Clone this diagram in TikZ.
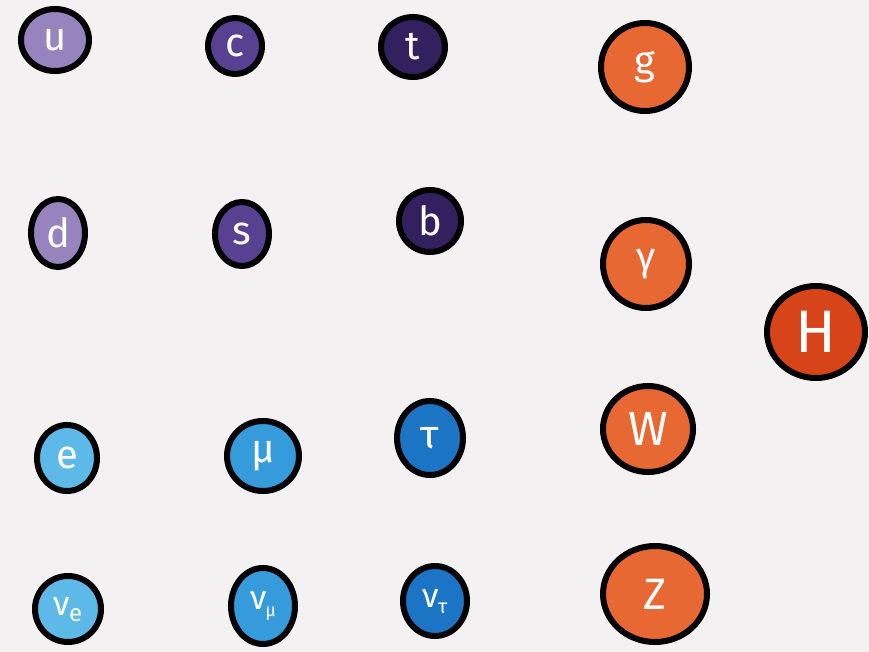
\documentclass[tikz,border=0pt]{standalone}
\usepackage{fontspec}
\setmainfont{Fira Sans}
\usetikzlibrary{shapes.geometric}
\definecolor{bg}{HTML}{F3F1F2}
\definecolor{qa}{HTML}{9783BE}
\definecolor{qb}{HTML}{574190}
\definecolor{qc}{HTML}{33215F}
\definecolor{la}{HTML}{5DB9E8}
\definecolor{lb}{HTML}{369BDA}
\definecolor{lc}{HTML}{1C74C4}
\definecolor{bo}{HTML}{E76833}
\definecolor{hi}{HTML}{D7441A}
\tikzset{
  particle/.style={ellipse, draw=black, line width=6pt, inner sep=0pt,
    text=white, font=\fontsize{40}{40}\selectfont},
}
\newcommand{\pnode}[6]{% name, x, y, rx, ry, colour
  \node[particle, fill=#6, minimum width={2*#4-6}, minimum height={2*#5-6}] (#1) at (#2,#3)}
\begin{document}
\begin{tikzpicture}[x=1pt,y=-1pt]
\fill[bg] (0,0) rectangle (869,652);
\useasboundingbox (0,0) rectangle (869,652);
% quarks
\pnode{u}{55}{40}{37}{34}{qa} {u};
\pnode{c}{235}{46}{30}{31}{qb} {c};
\pnode{t}{413}{47}{35}{33}{qc} {t};
\pnode{d}{58}{233}{30}{37}{qa} {d};
\pnode{s}{242}{234}{30}{35}{qb} {s};
\pnode{b}{430}{221}{34}{34}{qc} {b};
% leptons
\pnode{e}{67}{458}{33}{36}{la} {e};
\pnode{mu}{263}{456}{39}{38}{lb} {μ};
\pnode{tau}{430}{438}{36}{40}{lc} {τ};
\pnode{nue}{68}{609}{36}{36}{la} {\fontsize{34}{34}\selectfont ν\kern-1pt\raisebox{-6pt}{\fontsize{24}{24}\selectfont e}};
\pnode{numu}{263}{606}{35}{41}{lb} {\fontsize{34}{34}\selectfont ν\kern-1pt\raisebox{-7pt}{\fontsize{18}{18}\selectfont μ}};
\pnode{nutau}{435}{601}{35}{38}{lc} {\fontsize{34}{34}\selectfont ν\kern-1pt\raisebox{-6pt}{\fontsize{20}{20}\selectfont τ}};
% bosons
\pnode{g}{645}{67}{47}{47}{bo} {g};
\pnode{gamma}{646}{264}{46}{47}{bo} {γ};
\pnode{W}{648}{429}{48}{46}{bo} {\fontsize{48}{48}\selectfont W};
\pnode{Z}{655}{594}{55}{51}{bo} {\fontsize{44}{44}\selectfont Z};
\pnode{H}{816}{332}{52}{49}{hi} {\fontsize{60}{60}\selectfont H};
\end{tikzpicture}
\end{document}
